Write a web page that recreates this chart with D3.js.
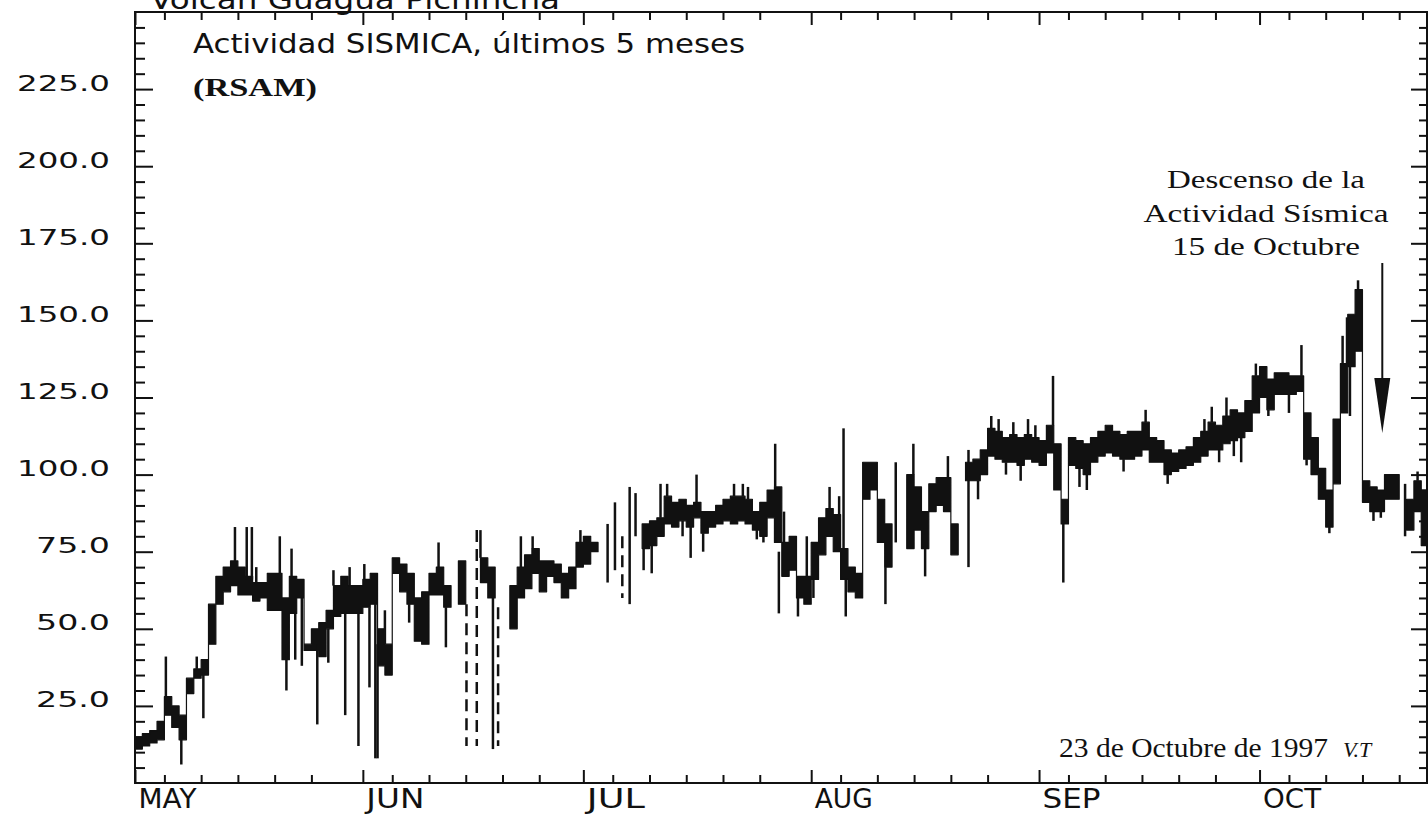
<!DOCTYPE html>
<html>
<head>
<meta charset="utf-8">
<script src="https://cdnjs.cloudflare.com/ajax/libs/d3/7.8.5/d3.min.js"></script>
<style>
body { margin: 0; background: #fff; }
svg { display: block; }
</style>
</head>
<body>
<svg id="canvas" width="1428" height="815"></svg>
<script>
// daily RSAM band (low / high), one entry per day from 1 May 1997
let startDate = new Date(1997, 4, 1)
let endDate = new Date(1997, 9, 24)

let rsamLow = [
  11, 12, 13, 14, 22, 18, 14, 29, 34, 35, 45, 58, 62, 64, 61, 61, 59, 60, 56, 56,
  40, 55, 60, 43, 43, 41, 50, 54, 55, 55, 55, 57, 58, 38, 35, 68, 62, 58, 46, 45,
  61, 61, 57, null, 58, null, null, 65, 60, null, null, 50, 60, 63, 68, 62, 67, 65, 60, 63,
  70, 71, 75, null, null, null, null, null, null, 76, 77, 80, 84, 83, 85, 83, 86, 81, 83, 84,
  85, 84, 85, 84, 82, 80, 86, 78, 67, 69, 60, 58, 66, 74, 80, 75, 66, 62, 60, 92,
  95, 78, 70, null, null, 76, 82, 76, 88, 90, 88, 74, null, 98, 98, 100, 106, 105, 104, 104,
  103, 105, 104, 103, 107, 95, 84, 103, 102, 100, 104, 106, 107, 106, 105, 105, 106, 108, 104, 104,
  100, 101, 102, 103, 104, 106, 108, 108, 110, 111, 112, 114, 120, 125, 121, 126, 126, 126, 127, 105,
  100, 92, 83, 97, 120, 135, 140, 91, 88, 88, 92, 92, null, 82, 88, 77
]

let rsamHigh = [
  15, 16, 17, 20, 28, 25, 22, 34, 37, 40, 58, 67, 70, 72, 70, 67, 65, 65, 68, 68,
  60, 67, 66, 45, 50, 52, 56, 64, 67, 64, 64, 66, 68, 50, 45, 73, 71, 68, 60, 62,
  68, 70, 64, null, 72, null, null, 73, 70, null, null, 64, 70, 74, 76, 72, 72, 71, 68, 70,
  78, 80, 78, null, null, null, null, null, null, 84, 85, 86, 93, 91, 92, 90, 91, 88, 88, 90,
  92, 93, 93, 92, 88, 91, 95, 96, 78, 80, 67, 67, 78, 86, 89, 87, 76, 70, 68, 104,
  104, 92, 84, null, null, 100, 96, 88, 97, 99, 99, 84, null, 104, 105, 108, 115, 114, 112, 113,
  112, 113, 112, 111, 116, 110, 92, 112, 111, 110, 112, 114, 116, 114, 113, 114, 114, 117, 112, 111,
  108, 107, 108, 109, 112, 114, 117, 116, 119, 121, 120, 124, 132, 135, 131, 133, 133, 132, 132, 120,
  112, 102, 95, 118, 136, 152, 160, 98, 96, 95, 100, 100, null, 92, 98, 95
]

// short excursions: day (from 1 May), start value, end value
let spikeDays = [
  4.2, 6.3, 8.4, 9.3, 13.6, 15.2, 15.9, 16.5, 19.7, 20.6, 21.3, 21.8, 22.7, 24.8, 26.3, 27.0, 28.6, 29.2, 30.4,
  31.2, 31.9, 32.7, 33.0, 34.0, 37.3, 41.3, 42.3, 47.0, 48.7, 52.5, 54.1, 60.6,
  64.3, 65.3, 67.3, 68.1, 69.2, 70.3, 71.5, 72.4, 74.5, 75.6, 76.4, 77.3, 81.5, 82.7, 83.4, 84.6, 85.5, 87.1, 87.6, 88.3, 90.2, 91.4,
  92.3, 94.5, 95.8, 96.4, 96.7, 102.1, 103.5, 105.9, 107.5, 110.6, 113.4, 114.7, 116.5, 117.5, 118.5, 119.5, 120.5, 121.5, 122.5,
  124.9, 126.3, 128.5, 129.5, 134.5, 137.5, 140.5, 145.5, 146.5, 147.5, 148.5, 149.5, 150.5, 152.5,
  154.2, 157.0, 158.7, 159.4, 162.5, 164.3, 164.9, 165.3, 166.4, 168.5, 169.5, 172.8, 174.5
]
let spikeFrom = [
  28, 16, 37, 36, 72, 66, 66, 65, 68, 45, 67, 55, 60, 45, 50, 64, 55, 64, 55,
  66, 57, 58, 45, 45, 58, 70, 57, 73, 60, 70, 76, 78,
  84, 91, 96, 94, 76, 77, 86, 93, 85, 83, 91, 81, 93, 93, 92, 82, 80, 96, 75, 78, 60, 67,
  66, 89, 87, 76, 66, 70, 78, 100, 76, 99, 70, 98, 115, 114, 104, 113, 103, 113, 112,
  116, 84, 102, 100, 105, 117, 100, 114, 117, 108, 119, 111, 112, 132,
  121, 126, 132, 105, 83, 136, 136, 135, 160, 88, 88, 80, 98
]
let spikeTo = [
  41, 6, 41, 21, 83, 83, 83, 70, 80, 30, 76, 40, 38, 19, 39, 69, 22, 70, 12,
  71, 31, 8, 8, 56, 52, 78, 44, 82, 11, 80, 80, 82,
  65, 69, 58, 80, 69, 68, 97, 97, 80, 73, 100, 75, 97, 97, 96, 79, 78, 110, 55, 88, 54, 80,
  60, 96, 93, 115, 54, 58, 104, 110, 67, 106, 108, 92, 119, 118, 100, 117, 98, 118, 116,
  132, 65, 96, 95, 101, 121, 97, 118, 122, 104, 125, 106, 104, 136,
  119, 120, 142, 103, 81, 145, 151, 119, 163, 85, 86, 97, 101
]

// broken (dashed) traces during the June / July gaps
let dashDays = [45.1, 46.5, 49.4, 66.3]
let dashFrom = [58, 82, 57, 80]
let dashTo = [12, 12, 12, 60]

let yMajor = [25, 50, 75, 100, 125, 150, 175, 200, 225]
let monthNames = ["MAY", "JUN", "JUL", "AUG", "SEP", "OCT"]

let canvas = d3.select("#canvas")

let x = d3.scaleTime().domain([startDate, endDate]).range([135, 1428.6])
let y = d3.scaleLinear().domain([0, 250]).range([783, 12])

let dayDate = (d) => new Date(startDate.getTime() + d * 864e5)

let monthStarts = d3.timeMonth.range(startDate, endDate)
let minorDays = d3.timeDay.range(startDate, endDate)
    .filter((d) => [5, 10, 15, 20, 25].includes(d.getDate()))
let yMinor = d3.range(5, 250, 5).filter((v) => v % 25 !== 0)

let plotFont = "'DejaVu Sans', sans-serif"
let serifFont = "'Liberation Serif', 'DejaVu Serif', serif"

// heading at the very top, clipped by the scan in the original
canvas.append("text")
    .attr("x", 150).attr("y", 9)
    .attr("font-family", plotFont).attr("font-size", 27).attr("fill", "#111")
    .attr("textLength", 410).attr("lengthAdjust", "spacingAndGlyphs")
    .text("Volcán Guagua Pichincha")

// axes
let styleAxis = (g) => {
    g.select(".domain").remove()
    g.selectAll("line").attr("stroke", "#111").attr("stroke-width", 2)
}

canvas.append("g").attr("transform", "translate(0,783)")
    .call(d3.axisBottom(x).tickValues(monthStarts).tickSizeInner(-13).tickSizeOuter(0).tickPadding(7)
        .tickFormat((d) => monthNames[d.getMonth() - 4]))
    .call(styleAxis)
    .call((g) => g.selectAll("text")
        .attr("text-anchor", "start").attr("dx", 3)
        .attr("font-family", plotFont).attr("font-size", 26).attr("fill", "#111")
        .attr("textLength", 58).attr("lengthAdjust", "spacingAndGlyphs"))

canvas.append("g").attr("transform", "translate(0,783)")
    .call(d3.axisBottom(x).tickValues(minorDays).tickSizeInner(-8).tickSizeOuter(0).tickFormat(""))
    .call(styleAxis)

canvas.append("g").attr("transform", "translate(0,12)")
    .call(d3.axisTop(x).tickValues(monthStarts).tickSizeInner(-13).tickSizeOuter(0).tickFormat(""))
    .call(styleAxis)

canvas.append("g").attr("transform", "translate(0,12)")
    .call(d3.axisTop(x).tickValues(minorDays).tickSizeInner(-8).tickSizeOuter(0).tickFormat(""))
    .call(styleAxis)

canvas.append("g").attr("transform", "translate(135,0)")
    .call(d3.axisLeft(y).tickValues(yMajor).tickSizeInner(-18).tickSizeOuter(0).tickPadding(25)
        .tickFormat(d3.format(".1f")))
    .call(styleAxis)
    .call((g) => g.selectAll("text")
        .attr("y", -6)
        .attr("font-family", plotFont).attr("font-size", 22).attr("fill", "#111")
        .attr("textLength", function () { return this.textContent.length * 19 - 2 })
        .attr("lengthAdjust", "spacingAndGlyphs"))

canvas.append("g").attr("transform", "translate(135,0)")
    .call(d3.axisLeft(y).tickValues(yMinor).tickSizeInner(-10).tickSizeOuter(0).tickFormat(""))
    .call(styleAxis)

canvas.append("g").attr("transform", "translate(1427,0)")
    .call(d3.axisRight(y).tickValues(yMajor).tickSizeInner(-16).tickSizeOuter(0).tickFormat(""))
    .call(styleAxis)

canvas.append("g").attr("transform", "translate(1427,0)")
    .call(d3.axisRight(y).tickValues(yMinor).tickSizeInner(-8).tickSizeOuter(0).tickFormat(""))
    .call(styleAxis)

canvas.append("rect")
    .attr("x", 135).attr("y", 12)
    .attr("width", 1427 - 135).attr("height", 783 - 12)
    .attr("fill", "none").attr("stroke", "#111").attr("stroke-width", 2)

// RSAM trace: each day is a flat step between its low and high value
let steps = []
rsamLow.forEach((lo, i) => {
    let hi = rsamHigh[i]
    if (lo === null) {
        steps.push(null)
    } else {
        steps.push({ day: i, lo: lo, hi: hi })
        steps.push({ day: i + 1, lo: lo, hi: hi })
    }
})

let band = d3.area()
    .defined((d) => d !== null)
    .x((d) => x(dayDate(d.day)))
    .y0((d) => y(d.lo))
    .y1((d) => y(d.hi))

canvas.append("path")
    .datum(steps)
    .attr("d", band)
    .attr("fill", "#111")
    .attr("stroke", "#111")
    .attr("stroke-width", 1.2)
    .attr("stroke-linejoin", "round")

canvas.append("g")
    .selectAll("line")
    .data(spikeDays)
    .enter()
    .append("line")
    .attr("x1", (d) => x(dayDate(d)))
    .attr("x2", (d) => x(dayDate(d)))
    .attr("y1", (d, i) => y(spikeFrom[i]))
    .attr("y2", (d, i) => y(spikeTo[i]))
    .attr("stroke", "#111")
    .attr("stroke-width", 2.5)

canvas.append("g")
    .selectAll("line")
    .data(dashDays)
    .enter()
    .append("line")
    .attr("x1", (d) => x(dayDate(d)))
    .attr("x2", (d) => x(dayDate(d)))
    .attr("y1", (d, i) => y(dashFrom[i]))
    .attr("y2", (d, i) => y(dashTo[i]))
    .attr("stroke", "#111")
    .attr("stroke-width", 2.5)
    .attr("stroke-dasharray", "12,7")

// titles and notes
canvas.append("text")
    .attr("x", 193).attr("y", 53)
    .attr("font-family", plotFont).attr("font-size", 27).attr("fill", "#111")
    .attr("textLength", 552).attr("lengthAdjust", "spacingAndGlyphs")
    .text("Actividad SISMICA, últimos 5 meses")

canvas.append("text")
    .attr("x", 193).attr("y", 96)
    .attr("font-family", serifFont).attr("font-size", 25).attr("font-weight", "bold").attr("fill", "#111")
    .attr("textLength", 124).attr("lengthAdjust", "spacingAndGlyphs")
    .text("(RSAM)")

let noteLines = ["Descenso de la", "Actividad Sísmica", "15 de Octubre"]
let noteWidths = [198, 245, 188]

canvas.append("g")
    .selectAll("text")
    .data(noteLines)
    .enter()
    .append("text")
    .attr("x", 1266)
    .attr("y", (d, i) => 188 + i * 33.5)
    .attr("text-anchor", "middle")
    .attr("font-family", serifFont).attr("font-size", 26).attr("fill", "#111")
    .attr("textLength", (d, i) => noteWidths[i]).attr("lengthAdjust", "spacingAndGlyphs")
    .text((d) => d)

let arrowX = x(dayDate(169.7))
canvas.append("line")
    .attr("x1", arrowX).attr("x2", arrowX)
    .attr("y1", 263).attr("y2", 400)
    .attr("stroke", "#111").attr("stroke-width", 2)
canvas.append("path")
    .attr("d", `M${arrowX - 8},378 L${arrowX + 8},378 L${arrowX},433 Z`)
    .attr("fill", "#111")

canvas.append("text")
    .attr("x", 1059).attr("y", 757)
    .attr("font-family", serifFont).attr("font-size", 27).attr("fill", "#111")
    .attr("textLength", 269).attr("lengthAdjust", "spacingAndGlyphs")
    .text("23 de Octubre de 1997")

canvas.append("text")
    .attr("x", 1343).attr("y", 757)
    .attr("font-family", serifFont).attr("font-size", 22).attr("font-style", "italic").attr("fill", "#111")
    .text("V.T")
</script>
</body>
</html>
